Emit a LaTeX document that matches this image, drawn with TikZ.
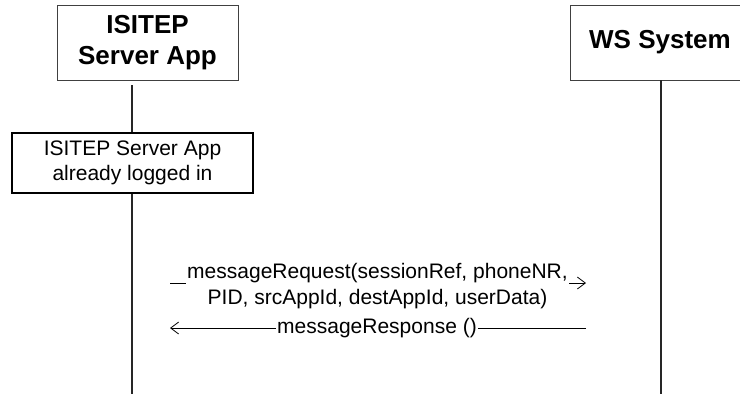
\documentclass[tikz,border=0pt]{standalone}
\usepackage{fontspec}
\setmainfont{Liberation Sans}
\usetikzlibrary{arrows.meta}
\begin{document}
\begin{tikzpicture}[x=0.75pt,y=-0.75pt,
  actor/.style={draw=black!75, line width=0.75pt, fill=white, inner sep=0pt, align=center,
    font=\fontsize{19.5}{23.25}\selectfont\bfseries},
  notebox/.style={draw=black, line width=1.3pt, fill=white, inner sep=0pt, align=center,
    font=\fontsize{15.75}{18.5}\selectfont},
  lifeline/.style={draw=black!85, line width=0.9pt},
  msg/.style={line width=0.6pt, -{Straight Barb[length=6pt,width=9pt]}},
  msglabel/.style={fill=white, inner sep=1pt, align=center,
    font=\fontsize{15.75}{19}\selectfont}]
  \clip (0,0) rectangle (740,394);

  % participants
  \node[actor, minimum width=135.75pt, minimum height=56.25pt] (isitep) at (147.5,42.5) {ISITEP\\Server App};
  \node[actor, minimum width=135pt, minimum height=56.25pt] (ws) at (660,42.5) {WS System};

  % lifelines
  \coordinate (isitepTop) at (132,85);
  \coordinate (isitepEnd) at (132,394);
  \coordinate (wsTop) at (661,80);
  \coordinate (wsEnd) at (661,394);
  \draw[lifeline] (isitepTop) -- (isitepEnd);
  \draw[lifeline] (wsTop) -- (wsEnd);

  % state note
  \node[notebox, minimum width=180.75pt, minimum height=45pt] (login) at (132.5,163) {ISITEP Server App\\already logged in};

  % messages
  \coordinate (reqStart) at (170,283);
  \coordinate (reqEnd) at (586,283);
  \coordinate (respStart) at (586,328);
  \coordinate (respEnd) at (170,328);
  \draw[msg] (reqStart) -- (reqEnd);
  \node[msglabel] (reqLabel) at (377.5,286) {messageRequest(sessionRef, phoneNR,\\PID, srcAppId, destAppId, userData)};
  \draw[msg] (respStart) -- (respEnd);
  \node[msglabel] (respLabel) at (377,328) {messageResponse ()};
\end{tikzpicture}
\end{document}
